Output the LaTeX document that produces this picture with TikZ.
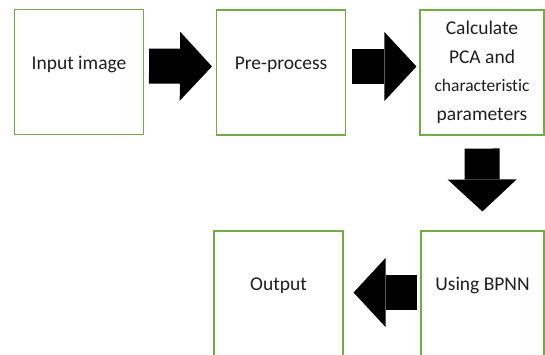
\documentclass[tikz,border=0pt]{standalone}
\usepackage{fontspec}
\setmainfont{Carlito}[Ligatures=NoCommon]
\usepackage{xcolor}
\usepackage{tikz}
\usetikzlibrary{arrows.meta}

\definecolor{boxgreen}{HTML}{70AD47}
\definecolor{textgray}{HTML}{1E1E1E}

\tikzset{
  stepbox/.style={draw=boxgreen, line width=1.1pt, minimum width=129pt,
    minimum height=125pt, inner sep=0pt, text=textgray, align=center,
    font=\fontsize{19.5}{28.5}\selectfont},
  oneline/.style={text height=13pt, text depth=18.5pt},
  blockarrow/.style={line width=35pt,
    -{Triangle[width=69pt,length=32pt,line width=0pt]}}
}

\begin{document}
\begin{tikzpicture}[x=1pt,y=-1pt]
        \useasboundingbox (0,0) rectangle (545,354);

        \node[stepbox, oneline] (input) at (79,72) {Input image};
        \node[stepbox, oneline] (prep)  at (281,72.5) {Pre-process};
        \node[stepbox, minimum width=124pt] (pca) at (482,72.5)
            {Calculate\\PCA and\\{\fontsize{17.5}{28.5}\selectfont characteristic}\\parameters};
        \node[stepbox, oneline, minimum width=123pt] (bpnn) at (482.5,293.5) {Using BPNN};
        \node[stepbox, oneline] (output) at (278.5,293.5) {Output};

        \draw[blockarrow, shorten <=5pt, shorten >=4pt] ([yshift=6pt]input.east) -- ([yshift=6pt]prep.west);
        \draw[blockarrow, shorten <=6pt, shorten >=3pt] ([yshift=6pt]prep.east) -- ([yshift=6pt]pca.west);
        \draw[blockarrow, shorten <=13pt, shorten >=19pt] (pca.south) -- (bpnn.north);
        \draw[blockarrow, shorten <=3pt, shorten >=10pt] ([yshift=1pt]bpnn.west) -- ([yshift=1pt]output.east);
    \end{tikzpicture}
\end{document}
